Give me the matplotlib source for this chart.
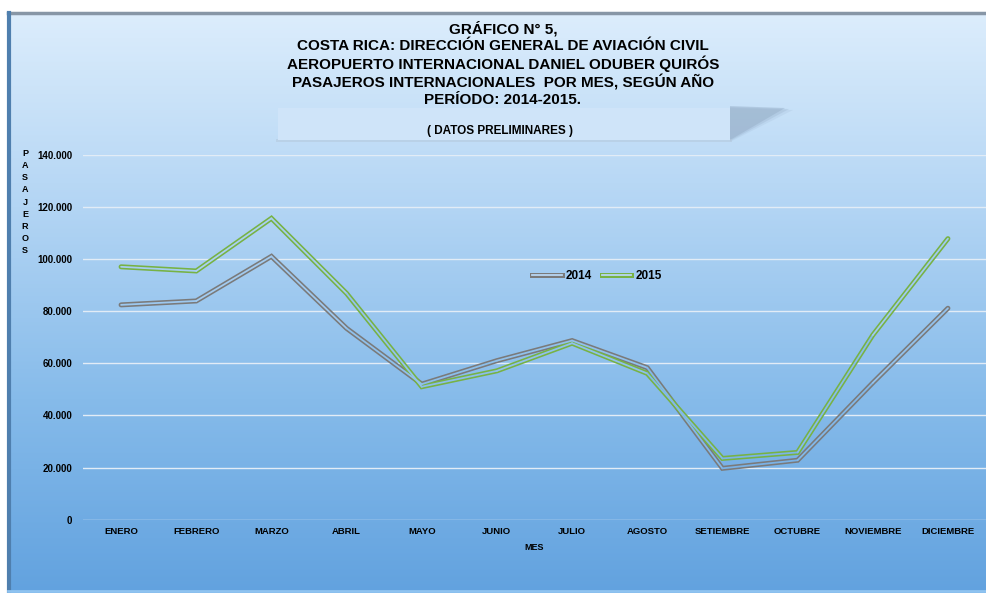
import matplotlib.pyplot as plt
import numpy as np
from matplotlib.collections import LineCollection
from matplotlib.lines import Line2D
from matplotlib.patches import Rectangle, Polygon
from matplotlib.colors import LinearSegmentedColormap
import matplotlib.patheffects as pe

W, H = 987, 593

meses = ["ENERO", "FEBRERO", "MARZO", "ABRIL", "MAYO", "JUNIO", "JULIO",
         "AGOSTO", "SETIEMBRE", "OCTUBRE", "NOVIEMBRE", "DICIEMBRE"]
pasajeros_2014 = [82400, 83900, 101000, 73400, 52000, 61000, 68700,
                  58300, 19700, 22800, 52500, 81100]
pasajeros_2015 = [97000, 95400, 115600, 86800, 51000, 57100, 67700,
                  56100, 23500, 25800, 70800, 107800]
y_ticks = [0, 20000, 40000, 60000, 80000, 100000, 120000, 140000]

titulo = ("GRÁFICO N° 5,\n"
          "COSTA RICA: DIRECCIÓN GENERAL DE AVIACIÓN CIVIL\n"
          "AEROPUERTO INTERNACIONAL DANIEL ODUBER QUIRÓS\n"
          "PASAJEROS INTERNACIONALES  POR MES, SEGÚN AÑO\n"
          "PERÍODO: 2014-2015.")

GRIS = "#7a7a7a"
VERDE = "#77b244"

plt.rcParams["font.family"] = ["Liberation Sans", "DejaVu Sans"]
plt.rcParams["font.weight"] = "bold"

# background gradient, top -> bottom
grad = LinearSegmentedColormap.from_list(
    "fondo", ["#dcedfc", "#b3d5f4", "#86bbea", "#62a2df"])
BG_BOTTOM, BG_TOP = 0.0, 1 - 13 / H


def bg_color(fy):
    t = (BG_TOP - fy) / (BG_TOP - BG_BOTTOM)
    return grad(np.clip(t, 0, 1))


fig = plt.figure(figsize=(W / 100, H / 100), dpi=100)
fig.patch.set_facecolor("white")

bg = fig.add_axes([8 / W, BG_BOTTOM, 1 - 8 / W, BG_TOP - BG_BOTTOM])
bg.imshow(np.linspace(0, 1, 256).reshape(-1, 1), cmap=grad, aspect="auto",
          extent=[0, 1, 0, 1])
bg.set_axis_off()

# frame lines
fig.add_artist(Line2D([8 / W, 1], [1 - 13 / H, 1 - 13 / H], color="#8796a6", lw=2.5))
fig.add_artist(Line2D([9 / W, 9 / W], [0, 1 - 13 / H], color="#4f7fae", lw=3))
fig.add_artist(Line2D([8 / W, 1], [2 / H, 2 / H], color="#8fc3f0", lw=2))

# title box with soft shadow
for i, a in enumerate([0.15, 0.25, 0.4]):
    d = (2 - i) * 4
    fig.add_artist(Polygon([[730 / W, 1 - (108 - i) / H],
                            [(785 + d) / W, 1 - (110 - i) / H],
                            [730 / W, 1 - (140 + d / 4) / H]], closed=True,
                           facecolor="#90a8c2", edgecolor="none", alpha=a))
fig.add_artist(Rectangle((276 / W, 1 - 142 / H), 456 / W, 2.5 / H,
                         facecolor="#b5c9de", edgecolor="none", alpha=0.6))
fig.add_artist(Rectangle((278 / W, 1 - 140 / H), 452 / W, 32 / H,
                         facecolor="#cfe4f9", edgecolor="none"))

fig.text(503 / W, 1 - 21 / H, titulo, ha="center", va="top", fontsize=11,
         fontweight="bold", linespacing=1.2)
fig.text(500 / W, 1 - 131 / H, "( DATOS PRELIMINARES )", ha="center",
         va="center", fontsize=8.5, fontweight="bold")

ax = fig.add_axes([83.5 / W, 73.3 / H, 902 / W, 365 / H])
ax.set_facecolor("none")
x = np.arange(len(meses))
ax.set_xlim(-0.5, len(meses) - 0.5)
ax.set_ylim(0, 140000)

for v in y_ticks:
    ax.axhline(v, color="#e2ecf6", lw=1, zorder=1)


def double_line(y, color, label):
    ax.plot(x, y, color=color, lw=3.6, solid_joinstyle="miter",
            solid_capstyle="round", zorder=3, label=label)
    pts = np.column_stack([x, y])
    segs = np.stack([pts[:-1], pts[1:]], axis=1)
    mid = (np.array(y[:-1]) + np.array(y[1:])) / 2
    fy = (73.3 + mid / 140000 * 365) / H
    lc = LineCollection(segs, colors=[bg_color(f) for f in fy], lw=1.3,
                        zorder=4, capstyle="round", joinstyle="miter")
    ax.add_collection(lc)


double_line(pasajeros_2014, GRIS, "2014")
double_line(pasajeros_2015, VERDE, "2015")

ax.set_xticks(x)
ax.set_xticklabels(meses, fontsize=6.8, fontweight="bold")
ax.set_yticks(y_ticks)
ax.set_yticklabels([f"{v:,}".replace(",", ".") for v in y_ticks],
                   fontsize=7, fontweight="bold")
ax.tick_params(length=0, pad=8)
ax.tick_params(axis="x", pad=5)
for s in ax.spines.values():
    s.set_visible(False)

fig.text(534 / W, 1 - 548 / H, "MES", ha="center", va="center",
         fontsize=6.5, fontweight="bold")
fig.text(25 / W, 1 - 149 / H, "\n".join("PASAJEROS"), ha="center", va="top",
         fontsize=6.5, fontweight="bold", linespacing=1.45)

handles = []
for c in (GRIS, VERDE):
    handles.append(Line2D([], [], color="#b9d7f3", lw=1.3,
                          path_effects=[pe.Stroke(linewidth=3.6, foreground=c),
                                        pe.Normal()]))
leg = fig.legend(handles, ["2014", "2015"], loc="center",
                 bbox_to_anchor=(597 / W, 1 - 276 / H), ncol=2, frameon=False,
                 handlelength=2.5, handletextpad=0.35, columnspacing=0.8,
                 prop={"size": 8.5, "weight": "bold"})

plt.savefig("out.png", dpi=100)
